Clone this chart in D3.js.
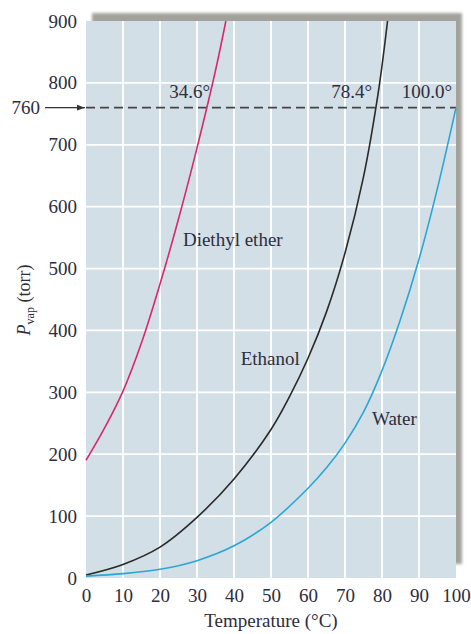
<!DOCTYPE html>
<html><head><meta charset="utf-8">
<script src="https://cdn.jsdelivr.net/npm/d3@7"></script>
<style>body{margin:0;background:#fff}</style>
</head><body>
<svg id="c" width="471" height="634"></svg>
<script>
const xTicks = [0,10,20,30,40,50,60,70,80,90,100];
const yTicks = [0,100,200,300,400,500,600,700,800,900];
const boilP = 760;
const etherData = [[0,190],[5,242],[10,302],[15,380],[20,475],[25,580],[30,695],[35,820],[37.8,900]];
const ethanolData = [[0,5],[10,22],[20,50],[30,98],[40,160],[50,240],[55,293],[60,355],[65,430],[70,525],[75,648],[79,785],[81.5,900]];
const waterData = [[0,3],[10,7],[20,14],[30,28],[40,52],[50,90],[60,145],[65,178],[70,218],[75,268],[80,335],[85,418],[90,515],[95,630],[100,760]];
const boilLabels = [["34.6°",34.6],["78.4°",78.4],["100.0°",100]];
const seriesNames = ["Diethyl ether","Ethanol","Water"];

const svg = d3.select("#c");
const L=86,R=456,T=21,B=578;
const x = d3.scaleLinear().domain([0,100]).range([L,R]);
const y = d3.scaleLinear().domain([0,900]).range([B,T]);
const font = "'Liberation Serif', 'Times New Roman', serif";
const tc = "#2d2d3d";
const fs = 19;

const defs = svg.append("defs");
defs.append("filter").attr("id","blur").append("feGaussianBlur").attr("stdDeviation",1.5);

// shadow
svg.append("rect").attr("x",L+6).attr("y",T-8).attr("width",R-L).attr("height",B-T-6)
  .attr("fill","#a3a19c").attr("filter","url(#blur)");
// plot bg
svg.append("rect").attr("x",L).attr("y",T).attr("width",R-L).attr("height",B-T).attr("fill","#d3dfe6");

// grid
svg.append("g").selectAll("line").data(xTicks.slice(1,-1)).join("line")
  .attr("x1",d=>x(d)).attr("x2",d=>x(d)).attr("y1",T).attr("y2",B)
  .attr("stroke","#fff").attr("stroke-width",1.8);
svg.append("g").selectAll("line").data(yTicks.slice(1,-1)).join("line")
  .attr("y1",d=>y(d)).attr("y2",d=>y(d)).attr("x1",L).attr("x2",R)
  .attr("stroke","#fff").attr("stroke-width",1.8);

// axes
const ax = svg.append("g").attr("transform",`translate(0,${B})`)
  .call(d3.axisBottom(x).tickValues(xTicks).tickSize(0).tickPadding(11));
const ay = svg.append("g").attr("transform",`translate(${L},0)`)
  .call(d3.axisLeft(y).tickValues(yTicks).tickSize(0).tickPadding(9));
[ax,ay].forEach(a=>{a.select(".domain").remove();
  a.selectAll("text").attr("font-family",font).attr("font-size",fs).attr("fill",tc);});

// dashed line
svg.append("line").attr("x1",L).attr("x2",x(100)).attr("y1",y(boilP)).attr("y2",y(boilP))
  .attr("stroke","#444").attr("stroke-width",1.6).attr("stroke-dasharray","9,5");
// arrow
defs.append("marker").attr("id","ah").attr("viewBox","0 0 10 10").attr("refX",10).attr("refY",5)
  .attr("markerWidth",7).attr("markerHeight",7).attr("orient","auto")
  .append("path").attr("d","M0,1.5L10,5L0,8.5Z").attr("fill","#333");
svg.append("line").attr("x1",45).attr("x2",L-1).attr("y1",y(boilP)).attr("y2",y(boilP))
  .attr("stroke","#333").attr("stroke-width",1.2).attr("marker-end","url(#ah)");
svg.append("text").attr("x",40).attr("y",y(boilP)).attr("dy","0.35em").attr("text-anchor","end")
  .attr("font-family",font).attr("font-size",fs).attr("fill",tc).text(String(boilP));

// curves
const line = d3.line().x(d=>x(d[0])).y(d=>y(d[1])).curve(d3.curveCatmullRom.alpha(0.5));
const curves = [[etherData,"#d8296f"],[ethanolData,"#2a2a2a"],[waterData,"#2aa6d6"]];
curves.forEach(([d,c])=>{
  svg.append("path").datum(d).attr("d",line).attr("fill","none").attr("stroke",c).attr("stroke-width",1.6);
});

// boil labels
svg.append("g").selectAll("text").data(boilLabels).join("text")
  .attr("x",d=>x(d[1])-4).attr("y",y(boilP)-10).attr("text-anchor","end")
  .attr("font-family",font).attr("font-size",fs).attr("fill",tc).text(d=>d[0]);

// series labels
const seriesPos = [[26.2,537],[41.8,344],[77.3,247]];
svg.append("g").selectAll("text").data(seriesNames).join("text")
  .attr("x",(d,i)=>x(seriesPos[i][0])).attr("y",(d,i)=>y(seriesPos[i][1]))
  .attr("font-family",font).attr("font-size",fs).attr("fill",tc).text(d=>d);

// axis titles
svg.append("text").attr("x",271).attr("y",627).attr("text-anchor","middle")
  .attr("font-family",font).attr("font-size",fs).attr("fill",tc).text("Temperature (°C)");
const yt = svg.append("text").attr("transform","translate(30,300) rotate(-90)").attr("text-anchor","middle")
  .attr("font-family",font).attr("font-size",18).attr("fill",tc);
yt.append("tspan").attr("font-style","italic").text("P");
yt.append("tspan").attr("font-size",12).attr("dy",4).text("vap");
yt.append("tspan").attr("dy",-4).text(" (torr)");
</script>
</body></html>
